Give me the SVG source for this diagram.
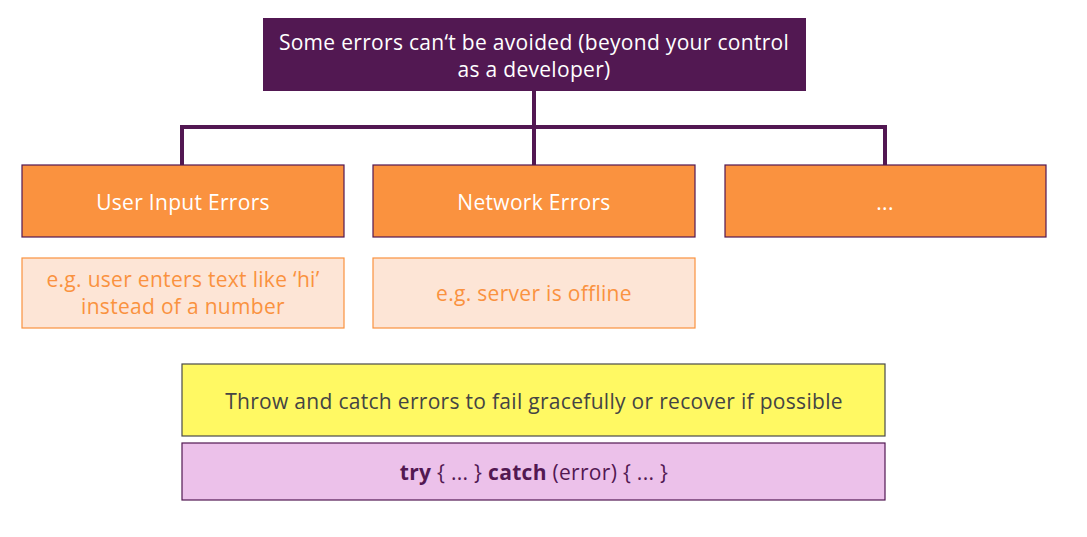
<svg xmlns="http://www.w3.org/2000/svg" width="1087" height="537" viewBox="0 0 1087 537">
<style>
text{font-family:"Open Sans","Noto Sans",sans-serif;text-anchor:middle;font-size:21px;letter-spacing:0.3px}
.top{fill:#521852}
.cat{fill:#FA923F;stroke:#521852;stroke-width:1.2}
.cat-t{fill:#ffffff}
.ex{fill:#FDE5D6;stroke:#FA923F;stroke-width:1.2}
.ex-t{fill:#FA923F}
.conn{fill:none;stroke:#521852;stroke-width:4}
</style>
<rect width="1087" height="537" fill="#ffffff"/>
<g id="connectors">
<path class="conn" d="M534 91V127M182 165V127H885V165M534 127V165"/>
</g>
<g id="top">
<rect class="top" x="263" y="18" width="543" height="73"/>
<text class="cat-t" x="534" y="50">Some errors can‘t be avoided (beyond your control</text>
<text class="cat-t" x="534" y="77">as a developer)</text>
</g>
<g id="user-input">
<rect class="cat" x="22" y="165" width="322" height="72"/>
<text class="cat-t" x="183" y="210">User Input Errors</text>
</g>
<g id="network">
<rect class="cat" x="373" y="165" width="322" height="72"/>
<text class="cat-t" x="534" y="210">Network Errors</text>
</g>
<g id="more">
<rect class="cat" x="725" y="165" width="321" height="72"/>
<text class="cat-t" x="885" y="210">...</text>
</g>
<g id="user-example">
<rect class="ex" x="22" y="258" width="322" height="70"/>
<text class="ex-t" x="183" y="287">e.g. user enters text like ‘hi’</text>
<text class="ex-t" x="183" y="314">instead of a number</text>
</g>
<g id="network-example">
<rect class="ex" x="373" y="258" width="322" height="70"/>
<text class="ex-t" x="534" y="301">e.g. server is offline</text>
</g>
<g id="throw-catch">
<rect x="182" y="364" width="703" height="72" fill="#FFF963" stroke="#4A4A4A" stroke-width="1.2"/>
<text x="534" y="409" fill="#444444">Throw and catch errors to fail gracefully or recover if possible</text>
</g>
<g id="try-catch">
<rect x="182" y="443" width="703" height="57" fill="#ECC1EA" stroke="#521852" stroke-width="1.2"/>
<text x="534" y="480" fill="#521852"><tspan font-weight="bold">try</tspan> { ... } <tspan font-weight="bold">catch</tspan> (error) { ... }</text>
</g>
</svg>
